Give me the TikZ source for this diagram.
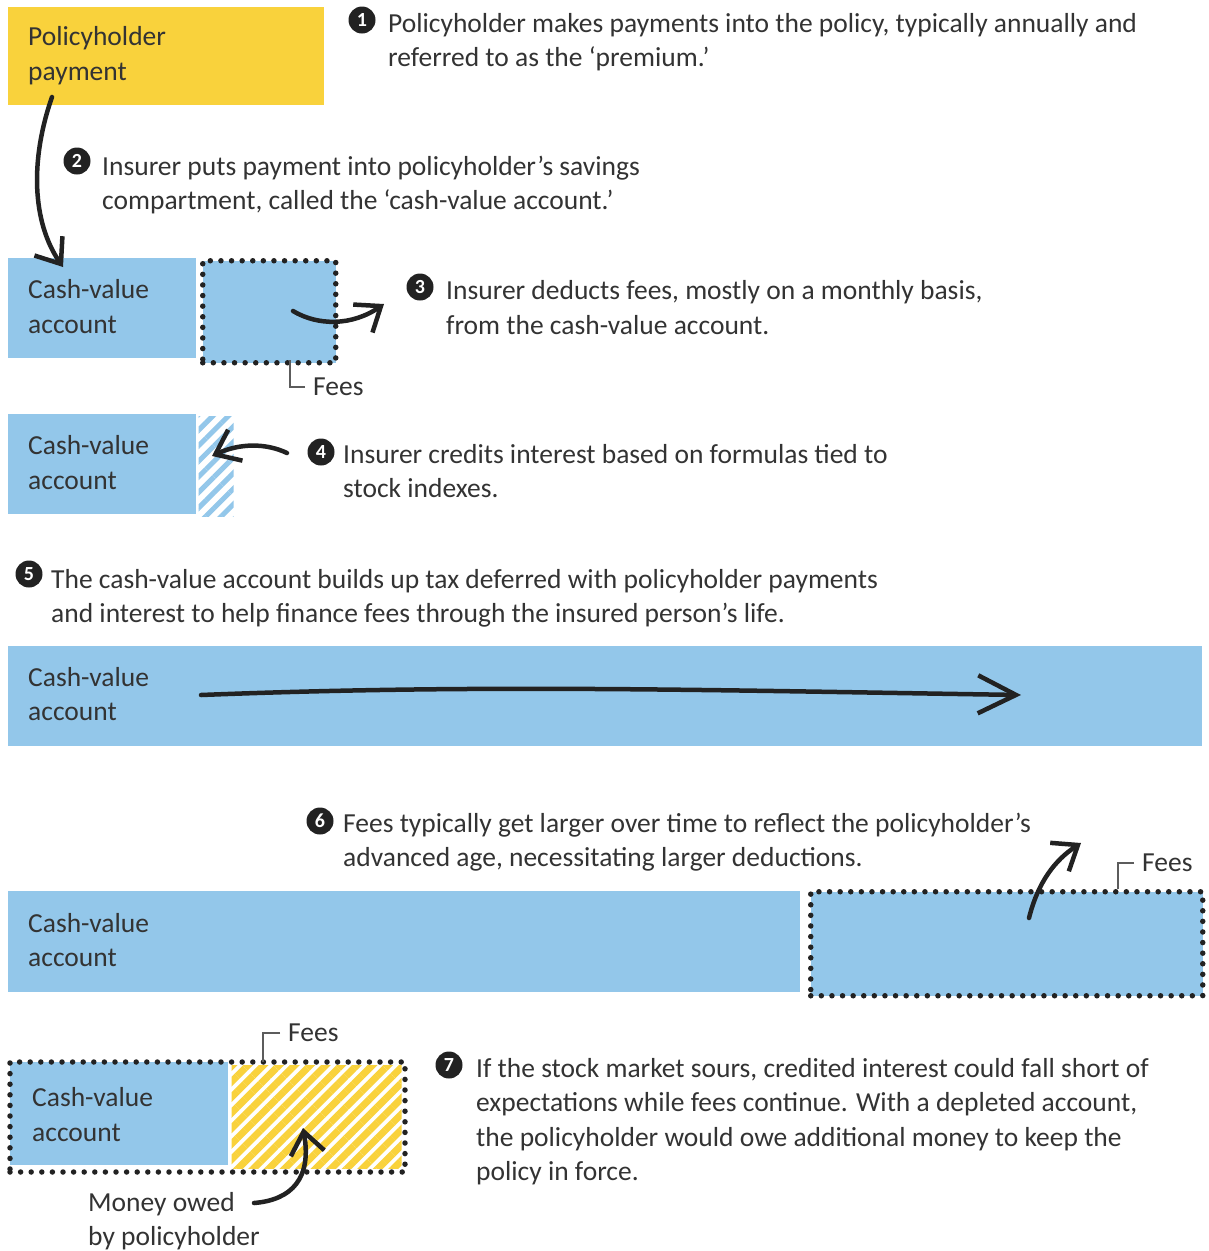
\documentclass[tikz,border=0pt]{standalone}
\usepackage{fontspec}
\setmainfont{Carlito}
\usepackage{tikz}
\usetikzlibrary{arrows.meta, positioning, fit, patterns.meta}
\definecolor{PayYellow}{HTML}{F9D23C}
\definecolor{CashBlue}{HTML}{93C7EA}
\definecolor{InkGray}{HTML}{333333}
\definecolor{PenBlack}{HTML}{222222}
\tikzset{
  % Box styles
  paybox/.style={rectangle, fill=PayYellow, inner sep=0pt, anchor=north west},
  cashbox/.style={rectangle, fill=CashBlue, inner sep=0pt, anchor=north west},
  dotborder/.style={draw=PenBlack, line width=5.5pt, dash pattern=on 0pt off 10.6pt, line cap=round},
  feebox/.style={rectangle, fill=CashBlue, dotborder, inner sep=0pt, anchor=north west},
  bluehatch/.style={rectangle, inner sep=0pt, anchor=north west, pattern={Lines[angle=45, distance=11pt, line width=5pt]}, pattern color=CashBlue},
  yellowhatch/.style={rectangle, inner sep=0pt, anchor=north west, pattern={Lines[angle=45, distance=11pt, line width=7pt]}, pattern color=PayYellow},
  % Text styles (anchored at the baseline of the last line)
  bodytext/.style={text=InkGray, font=\fontsize{27.5}{34.5}\selectfont, align=left, inner sep=0pt, anchor=base west},
  feetext/.style={text=InkGray, font=\fontsize{27.5}{34.5}\selectfont, inner sep=0pt, anchor=west},
  stepnum/.style={circle, fill=PenBlack, text=white, font=\fontsize{20}{20}\selectfont\bfseries, inner sep=0pt, minimum size=27pt},
  % Arrow styles
  penarrow/.style={-{Straight Barb[length=22pt, width=34pt]}, line width=4.5pt, PenBlack, line cap=round, line join=round},
  bracket/.style={draw=InkGray!80, line width=2pt}
}

\begin{document}
\begin{tikzpicture}[x=1pt, y=-1pt]
  \fill[white] (0,0) rectangle (1209,1251);
  \useasboundingbox (0,0) rectangle (1209,1251);

  % Step 1: payment
  \node[paybox, minimum width=316pt, minimum height=98pt] (pay) at (8,7) {};
  \node[bodytext] (paytxt) at (28,80) {Policyholder\\payment};
  \node[stepnum] (n1) at (362,20) {1};
  \node[bodytext] (t1) at (388,66.5) {Policyholder makes payments into the policy, typically annually and\\referred to as the ‘premium.’};

  % Step 2: into the account
  \node[stepnum] (n2) at (77,161) {2};
  \node[bodytext] (t2) at (102,209.5) {Insurer puts payment into policyholder’s savings\\compartment, called the ‘cash-value account.’};
  \node[cashbox, minimum width=188pt, minimum height=100pt] (cv2) at (8,258) {};
  \node[bodytext] (cv2txt) at (28,333) {Cash-value\\account};
  \coordinate (a2s) at (52,97);
  \coordinate (a2e) at (63,267);
  \draw[penarrow] (a2s) .. controls (30,160) and (32,222) .. (a2e);

  % Step 3: fees out
  \node[feebox, minimum width=133pt, minimum height=102pt] (fee3) at (200,258) {};
  \coordinate (a3s) at (293,311);
  \coordinate (a3e) at (384,304);
  \draw[penarrow] (a3s) .. controls (318,326) and (352,326) .. (a3e);
  \node[feetext] (fees3) at (313,387) {Fees};
  \coordinate (tick3) at (290,360);
  \draw[bracket] ([xshift=-8pt]fees3.west) -| (tick3);
  \node[stepnum] (n3) at (420,287) {3};
  \node[bodytext] (t3) at (446,334) {Insurer deducts fees, mostly on a monthly basis,\\from the cash-value account.};

  % Step 4: interest in
  \node[cashbox, minimum width=188pt, minimum height=100pt] (cv4) at (8,414) {};
  \node[bodytext] (cv4txt) at (28,489) {Cash-value\\account};
  \node[bluehatch, minimum width=35pt, minimum height=100pt] (int4) at (196,414) {};
  \coordinate (a4s) at (287,453);
  \coordinate (a4e) at (212,456);
  \draw[penarrow] (a4s) .. controls (266,443) and (240,443) .. (a4e);
  \node[stepnum] (n4) at (321,452) {4};
  \node[bodytext] (t4) at (343,497.5) {Insurer credits interest based on formulas tied to\\stock indexes.};

  % Step 5: account builds up
  \node[stepnum] (n5) at (29,574) {5};
  \node[bodytext] (t5) at (51,622.5) {The cash-value account builds up tax deferred with policyholder payments\\and interest to help finance fees through the insured person’s life.};
  \node[cashbox, minimum width=1194pt, minimum height=100pt] (cv5) at (8,646) {};
  \node[bodytext] (cv5txt) at (28,720.5) {Cash-value\\account};
  \coordinate (a5s) at (201,695);
  \coordinate (a5e) at (1021,695);
  \draw[penarrow, -{Straight Barb[length=38pt, width=38pt]}] (a5s) .. controls (480,684) and (700,690) .. (a5e);

  % Step 6: larger fees
  \node[stepnum] (n6) at (320,821) {6};
  \node[bodytext] (t6) at (343,866.5) {Fees typically get larger over time to reflect the policyholder’s\\advanced age, necessitating larger deductions.};
  \node[cashbox, minimum width=792pt, minimum height=101pt] (cv6) at (8,891) {};
  \node[bodytext] (cv6txt) at (28,966.5) {Cash-value\\account};
  \node[feebox, minimum width=392pt, minimum height=104pt] (fee6) at (808,889) {};
  \coordinate (a6s) at (1029,918);
  \coordinate (a6e) at (1081,843);
  \draw[penarrow] (a6s) .. controls (1038,882) and (1055,860) .. (a6e);
  \node[feetext] (fees6) at (1142,863) {Fees};
  \coordinate (tick6) at (1118,889);
  \draw[bracket] ([xshift=-8pt]fees6.west) -| (tick6);

  % Step 7: money owed
  \node[cashbox, minimum width=218pt, minimum height=103pt] (cv7) at (10,1062) {};
  \node[yellowhatch, minimum width=170pt, minimum height=103pt] (owe7) at (228,1062) {};
  \node[dotborder, rectangle, inner sep=0pt, fit=(cv7)(owe7)] (bound7) {};
  \node[bodytext] (cv7txt) at (32,1141) {Cash-value\\account};
  \node[feetext] (fees7) at (288,1033) {Fees};
  \coordinate (tick7) at (263,1062);
  \draw[bracket] ([xshift=-8pt]fees7.west) -| (tick7);
  \node[bodytext] (owetxt) at (88,1245.5) {Money owed\\by policyholder};
  \coordinate (a7s) at (254,1203);
  \coordinate (a7e) at (303,1128);
  \draw[penarrow] (a7s) .. controls (292,1200) and (312,1178) .. (a7e);
  \node[stepnum] (n7) at (449,1065) {7};
  \node[bodytext] (t7) at (476,1180.5) {If the stock market sours, credited interest could fall short of\\expectations while fees continue. With a depleted account,\\the policyholder would owe additional money to keep the\\policy in force.};
\end{tikzpicture}
\end{document}
